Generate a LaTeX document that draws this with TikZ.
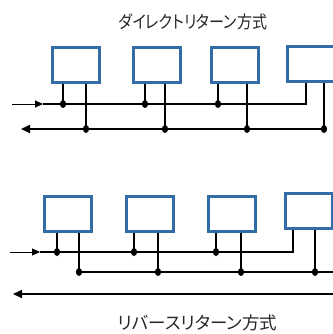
\documentclass[tikz,border=0pt]{standalone}
\usepackage{fontspec}
\newfontfamily\jpa[RawFeature=+palt,FakeStretch=0.86]{Noto Sans CJK JP}
\newfontfamily\jpb[RawFeature=+palt]{Noto Sans CJK JP}
\usetikzlibrary{arrows.meta}
\definecolor{boxblue}{RGB}{52,108,168}
\tikzset{
  x=1pt, y=-1pt,
  unit/.style={draw=boxblue, line width=3pt, fill=white, minimum width=47pt, minimum height=35pt, inner sep=0pt},
  pipe/.style={line width=2pt, black},
  inlet/.style={line width=0.9pt, black, -{Triangle[length=8pt,width=7pt]}},
  outlet/.style={line width=2pt, black, -{Triangle[length=9pt,width=8pt]}},
  title/.style={text=black!85, inner sep=0pt}
}
\newcommand{\jdot}[1]{\fill[black] (#1) ellipse [x radius=3.1pt, y radius=4pt];}
\begin{document}
\begin{tikzpicture}
\useasboundingbox (0,0) rectangle (332,334);
% ---------------- top: direct return ----------------
\node[title, font=\jpa\fontsize{17.5}{19}\selectfont] (t1) at (193,21.5) {ダイレクトリターン方式};
\node[unit] (a1) at (76,65) {};
\node[unit] (a2) at (156.5,65) {};
\node[unit] (a3) at (234.5,65) {};
\node[unit] (a4) at (311,64) {};
\coordinate (ain) at (12,104);
\coordinate (aarr) at (43,104);
\coordinate (as1) at (63,104);
\coordinate (as2) at (145,104);
\coordinate (as3) at (218,104);
\coordinate (as4) at (306,104);
\coordinate (ar1) at (86,129);
\coordinate (ar2) at (165,129);
\coordinate (ar3) at (247,129);
\coordinate (ar4) at (324,129);
\coordinate (aout) at (21,129);
% supply
\draw[inlet] (ain) -- (aarr);
\draw[pipe] (aarr) -- (as4) -- (as4 |- a4.south);
\draw[pipe] (as1 |- a1.south) -- (as1);
\draw[pipe] (as2 |- a2.south) -- (as2);
\draw[pipe] (as3 |- a3.south) -- (as3);
% return
\draw[pipe] (ar1 |- a1.south) -- (ar1);
\draw[pipe] (ar2 |- a2.south) -- (ar2);
\draw[pipe] (ar3 |- a3.south) -- (ar3);
\draw[pipe] (ar4 |- a4.south) -- (ar4);
\draw[outlet] (ar4) -- (aout);
\foreach \p in {as1,as2,as3,ar1,ar2,ar3,ar4} {\jdot{\p}}
% ---------------- bottom: reverse return ----------------
\node[unit] (b1) at (68,213.5) {};
\node[unit] (b2) at (149.5,213.5) {};
\node[unit] (b3) at (231.5,213.5) {};
\node[unit] (b4) at (308.5,210.5) {};
\coordinate (bin) at (10,252);
\coordinate (barr) at (40,252);
\coordinate (bs1) at (57,252);
\coordinate (bs2) at (134,252);
\coordinate (bs3) at (216,252);
\coordinate (bs4) at (293,252);
\coordinate (br1) at (79,272);
\coordinate (br2) at (158,272);
\coordinate (br3) at (241,272);
\coordinate (br4) at (315,272);
\coordinate (bre) at (334,272);
\coordinate (bce) at (334,294);
\coordinate (bout) at (13,294);
\draw[inlet] (bin) -- (barr);
\draw[pipe] (barr) -- (bs4) -- (bs4 |- b4.south);
\draw[pipe] (bs1 |- b1.south) -- (bs1);
\draw[pipe] (bs2 |- b2.south) -- (bs2);
\draw[pipe] (bs3 |- b3.south) -- (bs3);
\draw[pipe] (br1 |- b1.south) -- (br1);
\draw[pipe] (br2 |- b2.south) -- (br2);
\draw[pipe] (br3 |- b3.south) -- (br3);
\draw[line width=2.8pt] (br4 |- b4.south) -- (br4);
\draw[pipe] (br1) -- (bre);
\draw[outlet] (bce) -- (bout);
\foreach \p in {bs1,bs2,bs3,br1,br2,br3,br4} {\jdot{\p}}
\node[title, font=\jpb\fontsize{17.5}{19}\selectfont] (t2) at (197.5,323) {リバースリターン方式};
\end{tikzpicture}
\end{document}
